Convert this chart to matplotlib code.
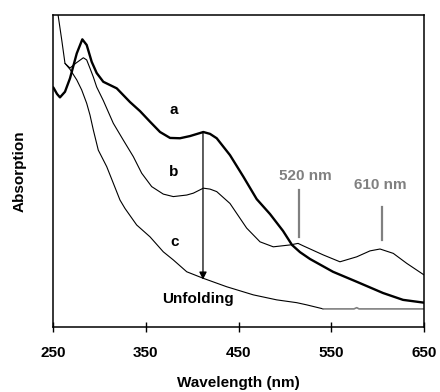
import numpy as np
import matplotlib.pyplot as plt

plt.rcParams['font.family'] = ['Liberation Sans', 'DejaVu Sans']

# spectrum a (native, thick)
wl_a = [250.3, 254.3, 257.5, 262.9, 268.3, 275.6, 281.6, 286.3, 291.7, 297.1, 304.2,
        318.7, 333.0, 343.8, 354.6, 365.4, 376.2, 386.9, 397.7, 412.1, 419.3, 426.5,
        440.8, 455.2, 469.6, 484.0, 498.0, 507.7, 516.3, 527.1, 551.9, 577.5, 605.8,
        627.4, 650.0]
abs_a = [0.768, 0.747, 0.736, 0.754, 0.797, 0.877, 0.922, 0.904, 0.850, 0.814, 0.786,
         0.765, 0.721, 0.692, 0.658, 0.625, 0.606, 0.605, 0.612, 0.625, 0.619, 0.605,
         0.551, 0.482, 0.410, 0.362, 0.308, 0.263, 0.240, 0.218, 0.177, 0.145, 0.109,
         0.087, 0.078]

# spectrum b (intermediate)
wl_b = [262.9, 268.3, 274.8, 282.7, 286.3, 289.9, 293.5, 297.1, 304.2, 315.0, 325.8,
        336.6, 345.6, 356.4, 368.9, 379.7, 394.2, 401.3, 412.1, 419.3, 426.5, 440.8,
        458.8, 473.2, 487.5, 505.5, 514.2, 519.9, 541.4, 559.4, 577.5, 591.8, 602.6,
        616.9, 631.4, 650.0]
abs_b = [0.845, 0.830, 0.846, 0.863, 0.856, 0.829, 0.801, 0.769, 0.726, 0.653, 0.599,
         0.546, 0.493, 0.450, 0.426, 0.418, 0.423, 0.429, 0.445, 0.442, 0.434, 0.396,
         0.317, 0.273, 0.257, 0.263, 0.268, 0.260, 0.231, 0.209, 0.225, 0.244, 0.250,
         0.236, 0.204, 0.167]

# spectrum c (unfolded)
wl_c = [253.8, 255.7, 259.4, 262.9, 268.3, 275.6, 280.9, 286.3, 289.9, 293.5, 298.8,
        307.9, 315.0, 322.2, 327.6, 340.2, 354.6, 368.9, 379.7, 394.2, 412.1, 437.3,
        466.0, 491.2, 512.8, 523.5, 541.4]
abs_c = [1.032, 0.995, 0.920, 0.845, 0.826, 0.792, 0.760, 0.717, 0.679, 0.631, 0.567,
         0.514, 0.461, 0.407, 0.380, 0.327, 0.289, 0.241, 0.215, 0.177, 0.156, 0.129,
         0.103, 0.087, 0.078, 0.071, 0.058]
wl_c2 = [541.4, 574.5, 577.5, 580.0, 650.0]
abs_c2 = [0.058, 0.058, 0.062, 0.058, 0.058]

xticks = [250, 350, 450, 550, 650]
grey = '#808080'

fig = plt.figure(figsize=(4.4, 3.92), dpi=100)
ax = fig.add_axes([0.1205, 0.1658, 0.8431, 0.7959])

line_kw = dict(solid_joinstyle='round', solid_capstyle='round')
ax.plot(wl_a, abs_a, color='black', lw=1.7, **line_kw)
ax.plot(wl_b, abs_b, color='black', lw=0.8, **line_kw)
ax.plot(wl_c, abs_c, color='black', lw=0.8, **line_kw)
ax.plot(wl_c2, abs_c2, color=grey, lw=1.2)

# unfolding arrow
ax.annotate('', xy=(411.7, 0.152), xytext=(411.7, 0.626),
            arrowprops=dict(arrowstyle='-|>', color='black', lw=0.9,
                            mutation_scale=11, shrinkA=0, shrinkB=0))

bold = dict(fontsize=11, fontweight='bold', ha='center', va='center')
ax.text(379.7, 0.696, 'a', **bold)
ax.text(379.7, 0.498, 'b', **bold)
ax.text(381.5, 0.273, 'c', **bold)
ax.text(406.7, 0.089, 'Unfolding', **bold)
ax.text(522.2, 0.484, '520 nm', color=grey, **bold)
ax.text(603.4, 0.455, '610 nm', color=grey, **bold)
ax.plot([515.2, 515.2], [0.439, 0.288], color=grey, lw=1.6)
ax.plot([604.4, 604.4], [0.386, 0.279], color=grey, lw=1.6)

ax.set_xlim(250, 650)
ax.set_ylim(0, 1)
ax.set_xticks(xticks)
ax.set_xticklabels([str(t) for t in xticks], fontsize=11, fontweight='bold')
ax.set_yticks([])
ax.tick_params(axis='x', direction='inout', length=7, width=1, pad=10)
for s in ax.spines.values():
    s.set_linewidth(1.1)

ax.set_xlabel('Wavelength (nm)', fontsize=11, fontweight='bold')
ax.xaxis.label.set_va('center')
ax.xaxis.set_label_coords(0.5, -0.1785)
ax.set_ylabel('Absorption', fontsize=11, fontweight='bold')
ax.yaxis.label.set_va('center')
ax.yaxis.set_label_coords(-0.089, 0.5)

fig.savefig('out.png', dpi=100)
